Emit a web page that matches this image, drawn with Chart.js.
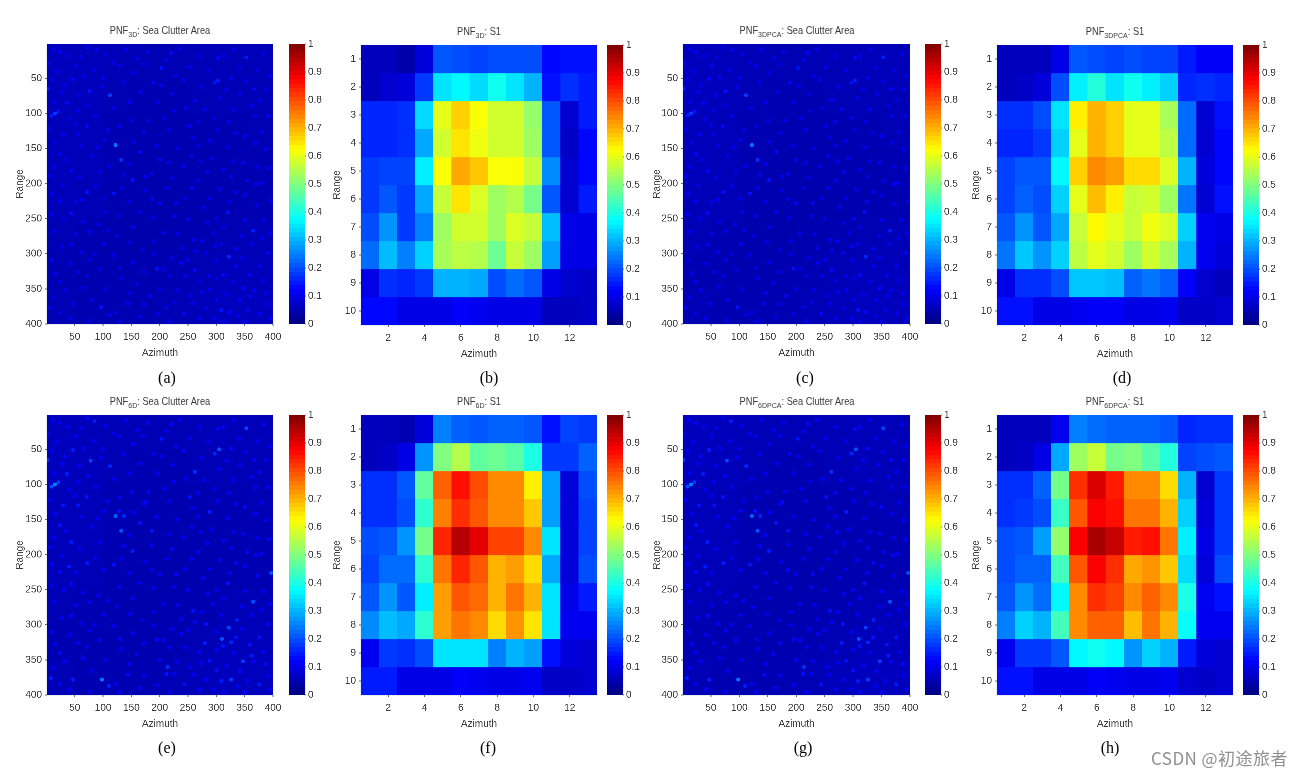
<!DOCTYPE html>
<html><head><meta charset="utf-8">
<style>
html,body{margin:0;padding:0;background:#fff;width:1303px;height:775px;overflow:hidden}
#page{position:absolute;left:0;top:0;width:1303px;height:775px;filter:blur(0.35px)}
canvas{position:absolute}
.t{position:absolute;font:10.5px "Liberation Sans",Arial,sans-serif;color:#3a3a3a;white-space:nowrap;transform:translateX(-50%) scaleX(.88)}
.t sub{font-size:8px;vertical-align:-3px;line-height:0}
.cap{position:absolute;font:16px "Liberation Serif",serif;color:#000;transform:translateX(-50%)}
#wm{position:absolute;left:1151px;top:745px;font:17px "Noto Sans CJK SC","Noto Sans",sans-serif;color:#8f8f8f;white-space:nowrap;letter-spacing:.45px}
</style>
<script src="https://cdn.jsdelivr.net/npm/chart.js@4/dist/chart.umd.min.js"></script>
</head><body><div id="page"></div>
<script>
const rangeTicksS1=[1,2,3,4,5,6,7,8,9,10];
const azimuthTicksS1=[2,4,6,8,10,12];
const ticksClutter=[50,100,150,200,250,300,350,400];
const colorbarTicks=[0,.1,.2,.3,.4,.5,.6,.7,.8,.9,1];

const s1_3D=[
[.06,.06,.04,.09,.21,.2,.19,.2,.2,.2,.13,.14,.14],
[.06,.08,.09,.18,.35,.37,.34,.39,.35,.3,.14,.17,.15],
[.16,.16,.17,.34,.6,.67,.62,.58,.58,.52,.21,.08,.15],
[.16,.16,.17,.29,.58,.65,.61,.58,.58,.53,.21,.07,.13],
[.18,.19,.19,.36,.62,.71,.68,.62,.62,.57,.26,.08,.13],
[.18,.21,.18,.29,.57,.65,.59,.53,.55,.49,.21,.08,.15],
[.2,.27,.18,.25,.53,.58,.58,.53,.59,.57,.31,.1,.1],
[.23,.31,.25,.33,.54,.56,.55,.48,.57,.53,.28,.1,.1],
[.1,.17,.16,.18,.3,.3,.29,.2,.23,.21,.1,.08,.07],
[.13,.13,.1,.1,.1,.12,.11,.1,.1,.1,.06,.06,.07]];
const s1_3DPCA=[
[.06,.06,.06,.1,.21,.2,.19,.2,.19,.19,.15,.12,.12],
[.06,.07,.09,.2,.36,.41,.35,.39,.36,.33,.16,.17,.16],
[.17,.17,.2,.35,.64,.7,.67,.6,.6,.54,.23,.08,.14],
[.16,.16,.18,.33,.6,.7,.67,.6,.6,.56,.23,.08,.13],
[.19,.21,.21,.37,.67,.74,.72,.66,.66,.59,.3,.09,.13],
[.19,.22,.2,.33,.6,.69,.64,.57,.58,.53,.24,.08,.14],
[.21,.27,.21,.29,.57,.63,.6,.57,.61,.59,.33,.11,.1],
[.24,.32,.27,.33,.56,.6,.58,.53,.58,.54,.3,.11,.09],
[.1,.17,.17,.2,.32,.32,.31,.22,.24,.22,.12,.08,.06],
[.14,.14,.1,.1,.11,.12,.12,.1,.1,.11,.07,.07,.08]];
const s1_6D=[
[.06,.06,.05,.09,.25,.22,.21,.22,.22,.21,.14,.19,.18],
[.06,.07,.1,.27,.5,.55,.47,.48,.46,.4,.18,.18,.22],
[.17,.17,.21,.47,.78,.86,.8,.74,.74,.64,.28,.09,.2],
[.17,.17,.2,.42,.75,.83,.79,.74,.74,.68,.28,.09,.19],
[.2,.21,.27,.49,.84,.95,.9,.81,.81,.74,.35,.09,.19],
[.19,.23,.23,.42,.76,.84,.79,.7,.72,.66,.29,.09,.2],
[.21,.27,.21,.36,.72,.79,.77,.7,.76,.7,.35,.1,.15],
[.26,.31,.29,.42,.72,.76,.74,.66,.73,.65,.35,.11,.11],
[.11,.18,.17,.2,.35,.35,.35,.25,.3,.28,.14,.09,.08],
[.15,.15,.1,.1,.1,.12,.11,.1,.1,.11,.07,.07,.08]];
const s1_6DPCA=[
[.06,.06,.06,.11,.25,.23,.22,.22,.22,.21,.16,.17,.17],
[.06,.07,.1,.29,.53,.57,.49,.5,.46,.41,.19,.2,.21],
[.17,.17,.22,.49,.83,.91,.85,.74,.74,.66,.3,.08,.18],
[.17,.18,.2,.43,.79,.88,.86,.76,.76,.7,.33,.09,.18],
[.2,.21,.28,.52,.88,.96,.93,.85,.86,.76,.36,.1,.18],
[.2,.22,.22,.44,.79,.88,.83,.71,.73,.68,.34,.09,.2],
[.21,.27,.23,.37,.74,.83,.81,.74,.78,.74,.4,.11,.14],
[.25,.33,.3,.44,.74,.78,.78,.69,.76,.7,.38,.11,.11],
[.11,.18,.18,.21,.37,.39,.37,.27,.33,.3,.15,.09,.08],
[.14,.14,.1,.1,.1,.12,.11,.1,.1,.11,.08,.07,.08]];

/* coarse sea-clutter floor, 8 x 8 blocks of 50 x 50 */
const clutterFloor=[
[.060,.058,.054,.052,.052,.054,.056,.056],
[.060,.058,.052,.050,.048,.052,.054,.054],
[.058,.056,.050,.048,.048,.048,.050,.052],
[.058,.056,.050,.046,.046,.048,.048,.050],
[.056,.054,.048,.046,.044,.046,.048,.050],
[.052,.050,.046,.044,.046,.048,.052,.054],
[.050,.048,.048,.048,.050,.052,.058,.058],
[.052,.050,.050,.050,.052,.056,.060,.060]];

/* faint mottling: azimuth, range */
const specklesFaint=[
[12,8],[38,18],[72,6],[104,16],[140,9],[178,12],[236,8],[270,18],[330,9],[384,14],[18,40],[52,32],[84,38],[118,28],[152,42],[170,30],[212,24],[252,34],[286,38],[340,34],
[372,38],[10,52],[66,48],[136,56],[204,60],[242,52],[318,66],[352,54],[394,46],[28,70],[58,74],[96,62],[166,70],[222,72],[274,62],[306,78],[342,72],[376,82],[14,84],[74,88],
[120,92],[196,84],[246,92],[296,106],[322,112],[368,104],[40,108],[86,104],[150,110],[208,106],[268,112],[6,122],[50,116],[108,124],[172,128],[216,124],[258,134],[302,124],[334,128],[380,126],
[16,142],[62,146],[102,138],[154,140],[194,146],[268,146],[320,148],[368,142],[34,166],[80,160],[146,172],[216,170],[256,160],[292,164],[330,168],[372,176],[12,176],[58,192],[94,182],[136,188],
[186,186],[222,192],[284,184],[326,190],[354,196],[28,202],[86,204],[132,206],[174,210],[212,206],[268,196],[306,208],[350,216],[392,178],[10,214],[52,226],[102,222],[146,226],[186,222],[244,220],
[276,234],[324,226],[372,230],[30,250],[64,254],[92,258],[128,246],[188,248],[226,246],[284,256],[312,262],[384,252],[14,268],[52,272],[108,266],[152,262],[232,272],[294,270],[346,274],[394,270],
[26,290],[62,298],[102,286],[148,284],[190,282],[238,292],[262,296],[308,286],[362,286],[380,278],[10,310],[42,314],[76,308],[118,302],[152,312],[190,300],[222,306],[250,308],[298,310],[346,306],
[16,328],[56,326],[94,322],[132,334],[172,326],[206,322],[244,332],[270,338],[300,336],[330,340],[382,338],[32,352],[64,348],[104,350],[146,356],[200,350],[230,352],[274,354],[318,358],[366,352],
[12,362],[42,392],[80,366],[122,384],[172,372],[196,386],[226,370],[282,378],[296,392],[338,388],[356,380],[390,372],[24,384],[130,396],[218,396],[312,396],[350,396],[254,360]];

/* bright speckles: azimuth, range, level */
const specklesA=[
[122,145,.24],[132,166,.17],[112,74,.18],[15,100,.18],[9,103,.15],[21,97,.14],[2,65,.15],[303,53,.15],[297,56,.14],[353,20,.15],
[203,35,.14],[220,14,.13],[322,304,.16],[320,241,.14],[365,267,.15],[97,376,.14],[76,68,.14],[47,51,.13],[36,85,.13],[119,214,.14],
[72,212,.14],[152,195,.14],[165,155,.13],[195,321,.14],[262,323,.13],[309,380,.14],[323,383,.13],[244,385,.13],[347,349,.13],[183,360,.13],
[144,371,.12],[24,12,.12],[303,21,.13],[326,49,.12],[367,65,.13],[391,104,.12],[350,132,.12],[288,139,.12],[253,118,.12],[262,82,.12],
[147,84,.12],[188,56,.12],[100,49,.11],[3,29,.12],[71,118,.13],[29,130,.12],[56,130,.11],[24,158,.12],[44,182,.12],[62,223,.12],
[44,242,.13],[9,244,.11],[24,225,.12],[6,189,.11],[200,228,.12],[229,228,.12],[256,206,.12],[288,221,.12],[379,199,.12],[397,225,.12],
[370,201,.12],[273,282,.12],[297,289,.12],[335,293,.12],[282,299,.11],[312,330,.13],[288,332,.12],[359,330,.12],[391,299,.12],[376,385,.12],
[341,366,.12],[388,356,.11],[238,313,.12],[218,332,.11],[159,342,.11],[71,332,.11],[24,340,.11],[44,287,.12],[76,268,.11],[124,275,.1],
[170,294,.1],[206,270,.11],[259,280,.12],[241,175,.11],[200,166,.11],[312,180,.11],[347,170,.12],[388,151,.11],[312,18,.11],[229,46,.11],
[129,32,.11],[88,10,.12],[279,94,.11],[329,94,.11],[362,89,.11],[388,65,.11],[47,371,.11],[6,376,.11],[112,387,.11],[212,376,.11],
[288,351,.12],[259,371,.11],[60,20,.11],[160,22,.11],[180,110,.11],[130,118,.11],[225,96,.11],[32,60,.11],[56,96,.11],[90,148,.11],
[110,175,.11],[175,190,.11],[230,150,.11],[272,168,.11],[335,212,.11],[300,250,.11],[350,252,.11],[250,250,.11],[165,240,.11],[105,240,.1],
[85,300,.11],[130,320,.1],[335,318,.12],[376,318,.12],[300,365,.12],[360,360,.12],[270,392,.11],[165,390,.11],[75,395,.1],[395,392,.11]];

const specklesE=[
[122,145,.22],[132,166,.2],[112,74,.16],[15,100,.25],[9,103,.2],[21,97,.18],[2,65,.17],[305,50,.2],[297,56,.16],[353,20,.19],
[203,35,.14],[220,14,.13],[322,304,.19],[320,241,.14],[365,267,.2],[98,378,.24],[78,66,.19],[47,51,.15],[36,85,.15],[119,214,.14],
[72,212,.15],[152,195,.15],[165,155,.14],[195,321,.13],[262,82,.17],[309,380,.15],[326,378,.18],[244,385,.14],[347,352,.18],[214,360,.17],
[144,371,.13],[24,12,.12],[303,21,.13],[326,49,.13],[367,65,.13],[391,104,.12],[350,132,.13],[288,139,.15],[253,118,.14],[397,226,.2],
[147,84,.12],[188,56,.12],[100,49,.11],[3,29,.12],[71,118,.14],[29,130,.14],[56,130,.14],[24,158,.14],[44,182,.15],[40,217,.15],
[44,242,.13],[9,244,.11],[24,225,.13],[6,189,.11],[200,228,.12],[229,228,.13],[256,206,.12],[288,221,.12],[379,199,.12],[310,320,.2],
[370,201,.12],[273,282,.12],[336,293,.15],[282,299,.14],[312,330,.14],[280,326,.15],[359,328,.14],[391,299,.12],[376,385,.15],[8,376,.15],
[341,366,.13],[388,356,.13],[238,313,.12],[218,332,.12],[159,342,.12],[71,332,.12],[24,340,.12],[44,287,.13],[76,268,.12],[124,275,.11],
[170,294,.11],[206,270,.11],[259,280,.14],[241,175,.12],[186,166,.14],[312,180,.12],[347,170,.12],[388,151,.12],[312,18,.12],[229,46,.12],
[129,32,.11],[85,10,.15],[279,94,.12],[329,94,.12],[362,89,.12],[388,65,.11],[47,378,.15],[326,325,.16],[110,387,.15],[212,370,.14],
[288,351,.14],[259,371,.12],[60,20,.12],[160,22,.12],[180,110,.12],[130,118,.12],[225,96,.12],[32,60,.13],[56,96,.12],[90,148,.12],
[137,145,.16],[128,138,.14],[175,125,.13],[230,150,.12],[272,168,.12],[335,212,.12],[300,250,.12],[350,252,.12],[250,250,.12],[165,240,.12],
[85,300,.12],[130,320,.11],[335,318,.14],[376,318,.14],[300,365,.14],[362,344,.15],[270,392,.12],[165,390,.12],[75,395,.11],[395,392,.12]];

const faintLevelA=.098, faintLevelE=.106;

function jet(v){
  const c=t=>Math.round(255*Math.max(0,Math.min(1,1.5-Math.abs(4*t))));
  return `rgb(${c(v-.75)},${c(v-.5)},${c(v-.25)})`;
}
const colorbarLevels=[];
for(let i=0;i<64;i++)colorbarLevels.push(i);

const page=document.getElementById('page');
const FONT={family:'"Liberation Sans",Arial,sans-serif',size:10};
const INK='#3d3d3d';
function axis(min,max,ticks,extra){
  return Object.assign({type:'linear',min,max,offset:false,
    afterBuildTicks:s=>{s.ticks=ticks.map(v=>({value:v}));},
    ticks:{color:INK,font:FONT,padding:5,autoSkip:false,maxRotation:0,callback:v=>String(v)},
    grid:{display:true,drawOnChartArea:false,tickLength:2,color:'#666',offset:false},
    border:{display:true,color:'#666',width:.6}},extra||{});
}
function makeChart(L,T,W,H,config){
  const c=document.createElement('canvas');
  c.width=W;c.height=H;c.style.left=L+'px';c.style.top=T+'px';c.style.width=W+'px';c.style.height=H+'px';
  page.appendChild(c);
  config.options=Object.assign({responsive:false,animation:false,devicePixelRatio:4,
    plugins:{legend:{display:false},tooltip:{enabled:false}}},config.options);
  return new Chart(c,config);
}
function frame(plot,xScale,yScale,config,labelGap){
  const padL=44,padT=12,padR=18,padB=38;
  xScale.title={display:true,text:'Azimuth',color:INK,font:FONT,padding:{top:0,bottom:2}};
  xScale.afterFit=s=>{s.height=padB-1;};
  yScale.title={display:true,text:'Range',color:INK,font:FONT,padding:{top:labelGap,bottom:0}};
  yScale.ticks=Object.assign({},yScale.ticks,{padding:3});
  yScale.afterFit=s=>{s.width=padL-1;};
  config.options={layout:{padding:{left:1,top:padT,right:padR,bottom:1}},scales:{x:xScale,y:yScale},
    datasets:{bar:{grouped:false,barPercentage:1,categoryPercentage:1,borderWidth:0}}};
  makeChart(plot.x-padL,plot.y-padT,plot.w+padL+padR,plot.h+padT+padB,config);
}
function heatmap(plot,rows,gap){
  const datasets=rows.map((row,r)=>({type:'bar',
    data:row.map((v,c)=>({x:c+1,y:[r+.5,r+1.5]})),
    backgroundColor:row.map(jet)}));
  frame(plot,axis(.5,13.5,azimuthTicksS1),axis(.5,10.5,rangeTicksS1,{reverse:true}),{type:'bar',data:{datasets}},gap);
}
function clutter(plot,speckles,faint,gap){
  const datasets=clutterFloor.map((row,r)=>({type:'bar',order:3,
    data:row.map((v,c)=>({x:25+50*c,y:[50*r,50*r+50]})),
    backgroundColor:row.map(jet)}));
  datasets.push({type:'scatter',order:2,showLine:false,
    data:specklesFaint.map(p=>({x:p[0],y:p[1]})),
    pointRadius:2.3,pointBorderWidth:0,pointBackgroundColor:jet(faint)});
  datasets.push({type:'scatter',order:1,showLine:false,
    data:speckles.map(p=>({x:p[0],y:p[1]})),
    pointRadius:2,pointBorderWidth:0,
    pointBackgroundColor:speckles.map(p=>jet(p[2]))});
  frame(plot,axis(1,400,ticksClutter),axis(1,400,ticksClutter,{reverse:true}),{type:'bar',data:{datasets}},gap);
}
function colorbar(x,y,h){
  const w=16,padT=12,padR=28,padB=12;
  const yAxis=axis(0,1,colorbarTicks,{position:'right',afterFit:s=>{s.width=padR;}});
  yAxis.ticks=Object.assign({},yAxis.ticks,{padding:2});
  yAxis.grid=Object.assign({},yAxis.grid,{tickLength:1});
  makeChart(x-1,y-padT,w+padR+1,h+padT+padB,{type:'bar',
    data:{datasets:[{data:colorbarLevels.map(i=>({x:.5,y:[i/64,(i+1)/64]})),backgroundColor:colorbarLevels.map(i=>jet((i+.5)/64))}]},
    options:{layout:{padding:{left:1,top:padT,bottom:padB,right:0}},
      datasets:{bar:{barPercentage:1,categoryPercentage:1,borderWidth:0}},
      scales:{
        x:{type:'linear',min:0,max:1,offset:false,display:false},
        y:yAxis
      }}});
}
function label(cls,html,x,y){
  const d=document.createElement('div');d.className=cls;d.innerHTML=html;d.style.left=x+'px';d.style.top=y+'px';page.appendChild(d);
}

const topY=44,botY=415,plotH=280;
const panels=[
 {x:47,w:226,y:topY,cb:289,sub:'3D',tail:'Sea Clutter Area',sp:specklesA,f:faintLevelA,gap:10,cap:'(a)',cx:167,cy:369},
 {x:361,w:236,y:topY+1,cb:606.5,sub:'3D',tail:'S1',rows:s1_3D,gap:13,cap:'(b)',cx:489,cy:369},
 {x:683,w:227,y:topY,cb:925,sub:'3DPCA',tail:'Sea Clutter Area',sp:specklesA,f:faintLevelA,gap:11,cap:'(c)',cx:805,cy:369},
 {x:997,w:236,y:topY+1,cb:1242.5,sub:'3DPCA',tail:'S1',rows:s1_3DPCA,gap:16,cap:'(d)',cx:1122,cy:369},
 {x:47,w:226,y:botY,cb:289,sub:'6D',tail:'Sea Clutter Area',sp:specklesE,f:faintLevelE,gap:10,cap:'(e)',cx:167,cy:739},
 {x:361,w:236,y:botY,cb:606.5,sub:'6D',tail:'S1',rows:s1_6D,gap:13,cap:'(f)',cx:488,cy:739},
 {x:683,w:227,y:botY,cb:925,sub:'6DPCA',tail:'Sea Clutter Area',sp:specklesE,f:faintLevelE,gap:11,cap:'(g)',cx:803,cy:739},
 {x:997,w:236,y:botY,cb:1242.5,sub:'6DPCA',tail:'S1',rows:s1_6DPCA,gap:16,cap:'(h)',cx:1110,cy:739}
];
panels.forEach(p=>{
  const plot={x:p.x,y:p.y,w:p.w,h:plotH};
  if(p.rows)heatmap(plot,p.rows,p.gap);else clutter(plot,p.sp,p.f,p.gap);
  colorbar(p.cb,p.y,plotH);
  label('t',`PNF<sub>${p.sub}</sub>: ${p.tail}`,p.x+p.w/2,p.y-20);
  label('cap',p.cap,p.cx,p.cy);
});
const wm=document.createElement('div');wm.id='wm';wm.textContent='CSDN @初途旅者';document.body.appendChild(wm);
</script></body></html>
